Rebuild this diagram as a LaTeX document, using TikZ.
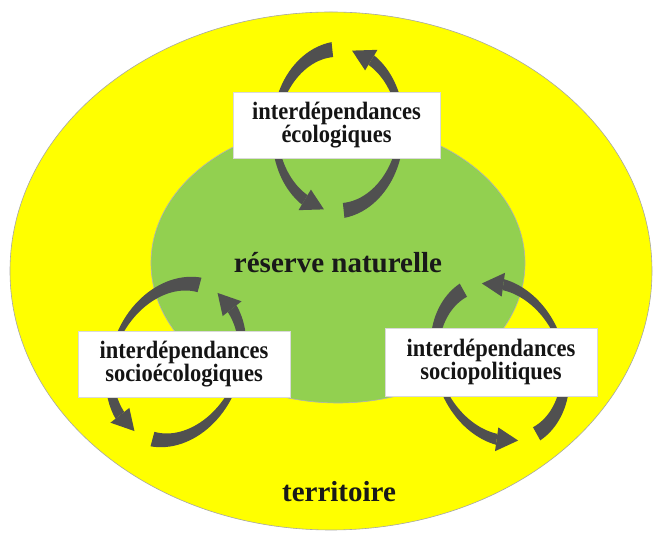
\documentclass[tikz,border=0pt]{standalone}
\usepackage{fontspec}
\setmainfont{Liberation Serif}
\newfontfamily\boxfont[FakeStretch=0.9]{Liberation Serif}
\usetikzlibrary{shapes.geometric}
\definecolor{terryellow}{RGB}{255,255,0}
\definecolor{reservegreen}{RGB}{146,208,80}
\definecolor{loopgray}{RGB}{80,80,80}
\tikzset{
  zone/.style={ellipse, inner sep=0pt, line width=0.6pt},
  labelbox/.style={draw=black!15, line width=0.4pt, fill=white, inner sep=0pt, align=center, font=\boxfont\fontsize{25}{21.7}\selectfont\bfseries, text=black!92},
  zonelabel/.style={font=\fontsize{29}{30}\selectfont\bfseries, text=black!90}
}
\newcommand{\rxloop}{63}
\newcommand{\ryloop}{81}
% tapered band on the loop ellipse: start angle, end angle, start width, end width
\newcommand{\looparc}[4]{%
  \fill[loopgray] plot[domain=#1:#2, samples=30, variable=\t]
    ({(\rxloop+(#3+(#4-#3)*(\t-(#1))/((#2)-(#1)))/2)*cos(\t)},
     {(\ryloop+(#3+(#4-#3)*(\t-(#1))/((#2)-(#1)))/2)*sin(\t)})
    -- plot[domain=#2:#1, samples=30, variable=\t]
    ({(\rxloop-(#3+(#4-#3)*(\t-(#1))/((#2)-(#1)))/2)*cos(\t)},
     {(\ryloop-(#3+(#4-#3)*(\t-(#1))/((#2)-(#1)))/2)*sin(\t)}) -- cycle;}
% arrow head: base angle, tip angle, half width
\newcommand{\loophead}[3]{%
  \fill[loopgray] ({(\rxloop+#3)*cos(#1)},{(\ryloop+#3)*sin(#1)})
    -- ({\rxloop*cos(#2)},{\ryloop*sin(#2)})
    -- ({(\rxloop-#3)*cos(#1)},{(\ryloop-#3)*sin(#1)}) -- cycle;}
% two curved arrows round a centre, turned by an angle
\newcommand{\interloop}[2]{%
  \begin{scope}[shift={#1}, rotate=#2]
    \foreach \half in {0,180}{
      \begin{scope}[rotate=\half]
        \looparc{99}{190}{15}{4}
        \looparc{-10}{62}{4}{11}
        \loophead{62}{81}{12}
      \end{scope}
    }
  \end{scope}}

\begin{document}
\begin{tikzpicture}[x=1pt,y=1pt]
  \useasboundingbox (0,0) rectangle (654,535);

  \node[zone, draw=black!35, fill=terryellow, minimum width=642, minimum height=518] (territoire) at (331,264) {};
  \node[zone, draw=black!30, fill=reservegreen, minimum width=374, minimum height=280, zonelabel] (reserve) at (338,272) {réserve naturelle};

  \coordinate (ecoLoop) at (338,405);
  \coordinate (socioecoLoop) at (176,173);
  \coordinate (sociopolLoop) at (500,173);

  \interloop{(ecoLoop)}{-3}
  \interloop{(socioecoLoop)}{-24}
  \interloop{(sociopolLoop)}{20}

  \node[labelbox, minimum width=207, minimum height=66] (eco) at (336.5,410) {interdépendances\\écologiques};
  \node[labelbox, minimum width=212, minimum height=66] (socioeco) at (184,171) {interdépendances\\socioécologiques};
  \node[labelbox, minimum width=212, minimum height=68] (sociopol) at (491,173) {interdépendances\\sociopolitiques};

  \node[zonelabel, anchor=base] (territoireLabel) at (339,33) {territoire};
\end{tikzpicture}
\end{document}
